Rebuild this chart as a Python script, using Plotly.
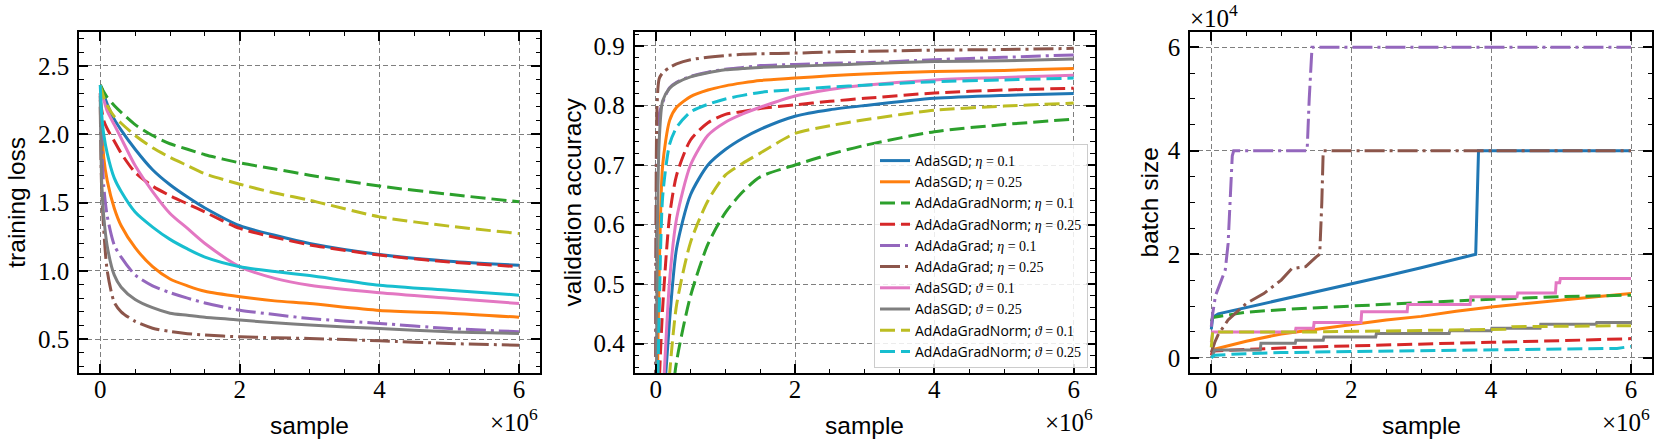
import plotly.graph_objects as go

W, H = 1660, 443

# ---------------- data (sample axis in units of 1e6) ----------------
samples = [0, 0.02, 0.05, 0.1, 0.2, 0.3, 0.5, 0.75, 1, 1.25, 1.5, 2, 2.5, 3, 4, 5, 6]

# training loss
loss_sgd_eta01 = [2.36, 2.34, 2.29, 2.22, 2.11, 2.03, 1.89, 1.74, 1.63, 1.54, 1.46, 1.33, 1.26, 1.20, 1.12, 1.07, 1.04]
loss_sgd_eta025 = [2.30, 2.10, 1.83, 1.66, 1.46, 1.33, 1.17, 1.03, 0.94, 0.89, 0.85, 0.81, 0.78, 0.76, 0.71, 0.69, 0.66]
loss_norm_eta01 = [2.36, 2.34, 2.31, 2.27, 2.21, 2.16, 2.07, 1.99, 1.93, 1.89, 1.85, 1.79, 1.745, 1.70, 1.62, 1.56, 1.505]
loss_norm_eta025 = [2.25, 2.18, 2.10, 2.04, 1.95, 1.86, 1.72, 1.62, 1.55, 1.49, 1.43, 1.31, 1.245, 1.19, 1.115, 1.065, 1.03]
loss_grad_eta01 = [2.30, 1.95, 1.62, 1.40, 1.19, 1.10, 0.97, 0.89, 0.84, 0.80, 0.765, 0.712, 0.68, 0.651, 0.615, 0.578, 0.554]
loss_grad_eta025 = [2.20, 1.60, 1.30, 1.00, 0.77, 0.70, 0.63, 0.58, 0.556, 0.54, 0.53, 0.517, 0.51, 0.505, 0.488, 0.468, 0.456]
loss_sgd_th01 = [2.30, 2.28, 2.25, 2.17, 2.07, 1.97, 1.77, 1.58, 1.42, 1.31, 1.20, 1.03, 0.945, 0.895, 0.84, 0.80, 0.761]
loss_sgd_th025 = [2.28, 1.66, 1.40, 1.18, 0.97, 0.88, 0.79, 0.73, 0.69, 0.675, 0.66, 0.64, 0.62, 0.603, 0.578, 0.554, 0.541]
loss_norm_th01 = [2.36, 2.32, 2.27, 2.21, 2.13, 2.08, 1.99, 1.90, 1.83, 1.77, 1.71, 1.634, 1.57, 1.517, 1.395, 1.327, 1.273]
loss_norm_th025 = [2.36, 2.15, 2.00, 1.86, 1.68, 1.58, 1.43, 1.32, 1.23, 1.16, 1.10, 1.03, 0.995, 0.965, 0.895, 0.858, 0.822]

# validation accuracy
acc_sgd_eta01 = [0.10, 0.12, 0.17, 0.27, 0.44, 0.56, 0.65, 0.70, 0.726, 0.745, 0.76, 0.782, 0.793, 0.80, 0.812, 0.817, 0.820]
acc_sgd_eta025 = [0.10, 0.30, 0.52, 0.70, 0.775, 0.797, 0.815, 0.826, 0.833, 0.838, 0.842, 0.846, 0.850, 0.853, 0.857, 0.859, 0.862]
acc_norm_eta01 = [0.10, 0.10, 0.11, 0.14, 0.27, 0.37, 0.48, 0.567, 0.62, 0.655, 0.68, 0.70, 0.718, 0.733, 0.756, 0.768, 0.777]
acc_norm_eta025 = [0.10, 0.20, 0.33, 0.46, 0.615, 0.683, 0.742, 0.771, 0.785, 0.79, 0.795, 0.801, 0.807, 0.812, 0.821, 0.826, 0.829]
acc_grad_eta01 = [0.10, 0.72, 0.785, 0.805, 0.83, 0.839, 0.849, 0.856, 0.861, 0.864, 0.867, 0.869, 0.871, 0.872, 0.877, 0.881, 0.885]
acc_grad_eta025 = [0.10, 0.80, 0.845, 0.855, 0.864, 0.870, 0.877, 0.881, 0.884, 0.886, 0.887, 0.888, 0.89, 0.891, 0.893, 0.894, 0.896]
acc_sgd_th01 = [0.10, 0.15, 0.20, 0.30, 0.507, 0.61, 0.70, 0.75, 0.772, 0.786, 0.797, 0.816, 0.827, 0.834, 0.843, 0.847, 0.851]
acc_sgd_th025 = [0.10, 0.55, 0.74, 0.808, 0.829, 0.838, 0.848, 0.855, 0.86, 0.862, 0.864, 0.866, 0.868, 0.870, 0.874, 0.875, 0.878]
acc_norm_th01 = [0.10, 0.10, 0.12, 0.18, 0.35, 0.465, 0.57, 0.64, 0.683, 0.703, 0.72, 0.753, 0.766, 0.776, 0.792, 0.799, 0.804]
acc_norm_th025 = [0.10, 0.25, 0.45, 0.647, 0.735, 0.763, 0.789, 0.802, 0.811, 0.817, 0.822, 0.827, 0.831, 0.834, 0.840, 0.843, 0.846]

# batch size (units of 1e4), each series with its own sample points
bs_sgd_eta01_x = [0, 0.02, 0.1, 0.5, 1.0, 1.5, 2.0, 2.5, 3.0, 3.5, 3.76, 3.78, 3.82, 6]
bs_sgd_eta01_y = [0.55, 0.78, 0.85, 0.97, 1.12, 1.28, 1.43, 1.58, 1.74, 1.90, 1.98, 2.0, 4.0, 4.0]
bs_sgd_eta025_x = [0, 0.5, 1, 1.5, 2, 2.5, 3, 3.5, 4, 4.5, 5, 5.5, 6]
bs_sgd_eta025_y = [0.15, 0.32, 0.46, 0.55, 0.64, 0.73, 0.80, 0.90, 0.98, 1.05, 1.12, 1.18, 1.24]
bs_norm_eta01_x = [0, 0.02, 0.5, 1, 2, 3, 4, 5, 6]
bs_norm_eta01_y = [0.70, 0.78, 0.88, 0.93, 1.00, 1.07, 1.13, 1.18, 1.21]
bs_norm_eta025_x = [0, 0.02, 0.5, 1, 2, 3, 4, 5, 6]
bs_norm_eta025_y = [0.05, 0.13, 0.16, 0.19, 0.23, 0.27, 0.30, 0.33, 0.37]
bs_grad_eta01_x = [0, 0.02, 0.06, 0.13, 0.2, 0.24, 0.27, 0.3, 0.32, 1.37, 1.40, 1.44, 6]
bs_grad_eta01_y = [0.60, 0.85, 1.20, 1.45, 1.70, 2.20, 3.00, 3.90, 4.00, 4.00, 5.00, 6.00, 6.00]
bs_grad_eta025_x = [0, 0.05, 0.1, 0.24, 0.5, 0.75, 0.95, 1.0, 1.15, 1.35, 1.5, 1.55, 1.58, 1.6, 6]
bs_grad_eta025_y = [0.10, 0.30, 0.45, 0.73, 1.05, 1.24, 1.45, 1.50, 1.72, 1.76, 1.95, 2.00, 3.00, 4.00, 4.00]
bs_sgd_th01_x = [0, 0.02, 1.2, 1.21, 1.46, 1.47, 2.14, 2.15, 2.8, 2.81, 3.7, 3.71, 4.37, 4.38, 4.92, 4.93, 4.98, 4.99, 6]
bs_sgd_th01_y = [0.30, 0.50, 0.50, 0.57, 0.57, 0.68, 0.68, 0.89, 0.89, 1.03, 1.03, 1.18, 1.18, 1.25, 1.25, 1.45, 1.45, 1.53, 1.53]
bs_sgd_th025_x = [0, 0.05, 0.7, 0.71, 1.2, 1.21, 1.6, 1.61, 2.35, 2.36, 3.4, 3.41, 4.0, 4.01, 4.7, 4.71, 5.5, 5.51, 6]
bs_sgd_th025_y = [0.0, 0.15, 0.15, 0.28, 0.28, 0.34, 0.34, 0.40, 0.40, 0.47, 0.47, 0.52, 0.52, 0.57, 0.57, 0.65, 0.65, 0.68, 0.68]
bs_norm_th01_x = [0, 0.02, 1.5, 2.5, 3.2, 4.2, 4.3, 6]
bs_norm_th01_y = [0.20, 0.50, 0.50, 0.52, 0.53, 0.55, 0.60, 0.62]
bs_norm_th025_x = [0, 0.05, 0.5, 1, 2, 3, 4, 5, 5.8, 6]
bs_norm_th025_y = [0.0, 0.05, 0.08, 0.10, 0.12, 0.14, 0.15, 0.17, 0.18, 0.22]

# ---------------- series metadata ----------------
methods = ["AdaSGD", "AdaSGD", "AdAdaGradNorm", "AdAdaGradNorm", "AdAdaGrad", "AdAdaGrad",
           "AdaSGD", "AdaSGD", "AdAdaGradNorm", "AdAdaGradNorm"]
params = ["η", "η", "η", "η", "η", "η", "ϑ", "ϑ", "ϑ", "ϑ"]
param_values = ["0.1", "0.25", "0.1", "0.25", "0.1", "0.25", "0.1", "0.25", "0.1", "0.25"]
colors = ["#1f77b4", "#ff7f0e", "#2ca02c", "#d62728", "#9467bd",
          "#8c564b", "#e377c2", "#7f7f7f", "#bcbd22", "#17becf"]
styles = ["solid", "solid", "dash", "dash", "dashdot", "dashdot", "solid", "solid", "dash", "dash"]
# the noisy cyan loss curve reads as a continuous line in the reference
loss_styles = ["solid", "solid", "dash", "dash", "dashdot", "dashdot", "solid", "solid", "dash", "solid"]

loss_series = [loss_sgd_eta01, loss_sgd_eta025, loss_norm_eta01, loss_norm_eta025, loss_grad_eta01,
               loss_grad_eta025, loss_sgd_th01, loss_sgd_th025, loss_norm_th01, loss_norm_th025]
acc_series = [acc_sgd_eta01, acc_sgd_eta025, acc_norm_eta01, acc_norm_eta025, acc_grad_eta01,
              acc_grad_eta025, acc_sgd_th01, acc_sgd_th025, acc_norm_th01, acc_norm_th025]
bs_series = [(bs_sgd_eta01_x, bs_sgd_eta01_y), (bs_sgd_eta025_x, bs_sgd_eta025_y),
             (bs_norm_eta01_x, bs_norm_eta01_y), (bs_norm_eta025_x, bs_norm_eta025_y),
             (bs_grad_eta01_x, bs_grad_eta01_y), (bs_grad_eta025_x, bs_grad_eta025_y),
             (bs_sgd_th01_x, bs_sgd_th01_y), (bs_sgd_th025_x, bs_sgd_th025_y),
             (bs_norm_th01_x, bs_norm_th01_y), (bs_norm_th025_x, bs_norm_th025_y)]

DASHES = {"solid": "solid", "dash": "15px,6px", "dashdot": "20px,5px,3px,5px"}
LW = 3
SERIF = "'Liberation Serif', 'DejaVu Serif', serif"
SANS = "'Liberation Sans', Arial, sans-serif"
LEG_SANS = "'Open Sans', 'Liberation Sans', sans-serif"


def label(i):
    return (f"{methods[i]}; <span style=\"font-family:Liberation Serif\"><i>{params[i]}</i>"
            f" = {param_values[i]}</span>")


fig = go.Figure()
for i in range(10):
    fig.add_trace(go.Scatter(x=samples, y=loss_series[i], mode="lines", xaxis="x", yaxis="y",
                             line=dict(color=colors[i], width=LW, dash=DASHES[loss_styles[i]],
                                       shape="spline", smoothing=0.7),
                             showlegend=False, hoverinfo="skip"))
    fig.add_trace(go.Scatter(x=samples, y=acc_series[i], mode="lines", xaxis="x2", yaxis="y2",
                             line=dict(color=colors[i], width=LW, dash=DASHES[styles[i]],
                                       shape="spline", smoothing=0.7),
                             name=label(i), showlegend=True, hoverinfo="skip"))
    bx, by = bs_series[i]
    fig.add_trace(go.Scatter(x=bx, y=by, mode="lines", xaxis="x3", yaxis="y3",
                             line=dict(color=colors[i], width=LW, dash=DASHES[styles[i]]),
                             showlegend=False, hoverinfo="skip"))

# ---------------- layout ----------------
def px_x(p):
    return p / W


def px_y(p):
    return 1 - p / H


frames = [(79.3, 540.0), (634.8, 1094.6), (1190.3, 1652.0)]
TOP, BOTTOM = 31.7, 373.3
ydom = [px_y(BOTTOM), px_y(TOP)]

GRID = dict(showgrid=True, gridcolor="#7f7f7f", gridwidth=1.2, griddash="5px,3px")
COMMON = dict(ticks="inside", ticklen=9, tickwidth=1.5, tickcolor="black",
              mirror="allticks", showline=True, linewidth=2, linecolor="black",
              zeroline=False, tickfont=dict(family=SERIF, size=25, color="black"),
              **GRID)


def minor(d):
    return dict(ticks="inside", ticklen=4.5, tickwidth=1.2, tickcolor="black", dtick=d, showgrid=False)


layout = dict(width=W, height=H, margin=dict(l=0, r=0, t=0, b=0),
              paper_bgcolor="white", plot_bgcolor="white", showlegend=True)

yspecs = [
    dict(range=[0.25, 2.75], tick0=0.5, dtick=0.5, tickformat=".1f", minor=minor(0.1)),
    dict(range=[0.35, 0.924], tick0=0.4, dtick=0.1, tickformat=".1f", minor=minor(0.02)),
    dict(range=[-0.3, 6.3], tick0=0, dtick=2, tickformat="d", minor=minor(0.5)),
]
for k in range(3):
    sfx = "" if k == 0 else str(k + 1)
    l, r = frames[k]
    layout["xaxis" + sfx] = dict(domain=[px_x(l), px_x(r)], anchor="y" + sfx, range=[-0.3, 6.3],
                                 tick0=0, dtick=2, minor=minor(0.5), ticklabelstandoff=-7,
                                 **COMMON)
    layout["yaxis" + sfx] = dict(domain=ydom, anchor="x" + sfx, ticklabelstandoff=3,
                                 **yspecs[k], **COMMON)

fig.update_layout(**layout)

fig.update_layout(legend=dict(
    x=px_x(1088.0), y=px_y(368), xanchor="right", yanchor="bottom",
    bgcolor="rgba(255,255,255,0.85)", bordercolor="#cccccc", borderwidth=1,
    font=dict(family=LEG_SANS, size=14, color="black"), tracegroupgap=0,
    itemwidth=30))

ylabels = ["training loss", "validation accuracy", "batch size"]
ylabel_x = [16.2, 572.0, 1149.0]
ann = []
for k in range(3):
    l, r = frames[k]
    ann.append(dict(text="sample", x=px_x((l + r) / 2), y=px_y(425), xref="paper", yref="paper",
                    xanchor="center", yanchor="middle", showarrow=False,
                    font=dict(family=SANS, size=24.5, color="black")))
    ann.append(dict(text=ylabels[k], x=px_x(ylabel_x[k]), y=px_y((TOP + BOTTOM) / 2),
                    xref="paper", yref="paper", xanchor="center", yanchor="middle",
                    textangle=-90, showarrow=False,
                    font=dict(family=SANS, size=24.5, color="black")))
    ann.append(dict(text="×10<sup>6</sup>", x=px_x(r), y=px_y(420), xref="paper", yref="paper",
                    xanchor="right", yanchor="middle", showarrow=False,
                    font=dict(family=SERIF, size=25, color="black")))
ann.append(dict(text="×10<sup>4</sup>", x=px_x(frames[2][0] - 2), y=px_y(16), xref="paper",
                yref="paper", xanchor="left", yanchor="middle", showarrow=False,
                font=dict(family=SERIF, size=25, color="black")))
fig.update_layout(annotations=ann)

fig.write_html("out.html", config={"displayModeBar": False},
               post_script="document.body.style.margin='0px';")
